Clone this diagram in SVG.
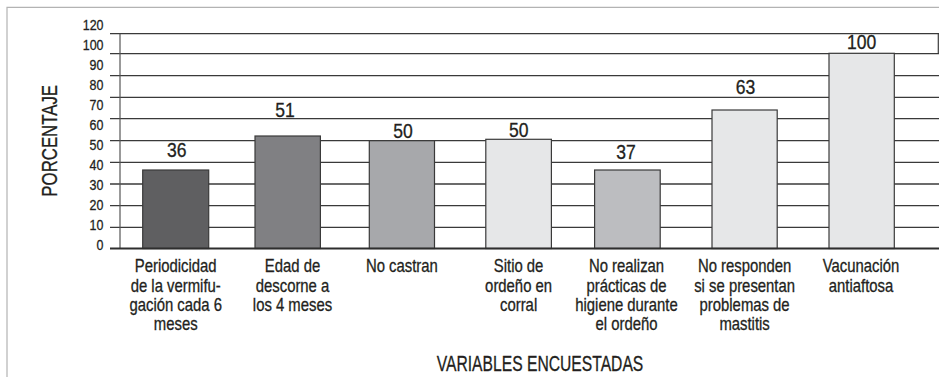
<svg xmlns="http://www.w3.org/2000/svg" width="939" height="377" viewBox="0 0 939 377">
<style>
  text { font-family: "Liberation Sans", Arial, "DejaVu Sans", sans-serif; fill: #231f20; stroke: #231f20; stroke-width: 0.3; }
  .tick { font-size: 14.5px; text-anchor: end; }
  .val { font-size: 19.5px; text-anchor: middle; }
  .cat { font-size: 17.5px; text-anchor: middle; }
  .title { font-size: 21.5px; text-anchor: middle; }
  .grid { stroke: #3a3a3a; stroke-width: 1.3; fill: none; }
  .bar { stroke: #3a3a3a; stroke-width: 1.2; }
</style>
<rect width="939" height="377" fill="#ffffff"/>
<g id="frame" fill="none" stroke="#b3b3b3" stroke-width="1.2">
  <path d="M7,377 V7.3 H939"/>
</g>
<g id="grid">
  <line class="grid" x1="110" y1="33.7" x2="939" y2="33.7"/>
  <line class="grid" x1="110" y1="53.7" x2="939" y2="53.7"/>
  <line class="grid" x1="110" y1="75.7" x2="939" y2="75.7"/>
  <line class="grid" x1="110" y1="97.3" x2="939" y2="97.3"/>
  <line class="grid" x1="110" y1="118.7" x2="939" y2="118.7"/>
  <line class="grid" x1="110" y1="140.7" x2="939" y2="140.7"/>
  <line class="grid" x1="110" y1="162.3" x2="939" y2="162.3"/>
  <line class="grid" x1="110" y1="184" x2="939" y2="184"/>
  <line class="grid" x1="110" y1="205.7" x2="939" y2="205.7"/>
  <line class="grid" x1="110" y1="227.3" x2="939" y2="227.3"/>
  <line x1="938.3" y1="33.7" x2="938.3" y2="53.7" stroke="#3a3a3a" stroke-width="1.2"/>
  <line x1="120" y1="33.7" x2="120" y2="248.5" stroke="#555" stroke-width="1.2"/>
</g>
<g id="ticks" transform="translate(103.5,0) scale(0.86,1)">
  <text class="tick" x="0" y="30">120</text>
  <text class="tick" x="0" y="50">100</text>
  <text class="tick" x="0" y="70">90</text>
  <text class="tick" x="0" y="90">80</text>
  <text class="tick" x="0" y="110">70</text>
  <text class="tick" x="0" y="130">60</text>
  <text class="tick" x="0" y="150">50</text>
  <text class="tick" x="0" y="170">40</text>
  <text class="tick" x="0" y="190">30</text>
  <text class="tick" x="0" y="210">20</text>
  <text class="tick" x="0" y="230">10</text>
  <text class="tick" x="0" y="250">0</text>
</g>
<g id="bar1">
  <rect class="bar" x="142.7" y="170" width="66" height="78.5" fill="#5f5f61"/>
  <text class="val" transform="translate(176.7,157.3) scale(0.9,1)">36</text>
  <g transform="translate(175.7,0) scale(0.85,1)">
    <text class="cat" x="0" y="272.5">Periodicidad</text>
    <text class="cat" x="0" y="291.8">de la vermifu-</text>
    <text class="cat" x="0" y="311.1">gación cada 6</text>
    <text class="cat" x="0" y="330.4">meses</text>
  </g>
</g>
<g id="bar2">
  <rect class="bar" x="255" y="136" width="65.4" height="112.5" fill="#808083"/>
  <text class="val" transform="translate(285,116.7) scale(0.9,1)">51</text>
  <g transform="translate(292.5,0) scale(0.85,1)">
    <text class="cat" x="0" y="272.5">Edad de</text>
    <text class="cat" x="0" y="291.8">descorne a</text>
    <text class="cat" x="0" y="311.1">los 4 meses</text>
  </g>
</g>
<g id="bar3">
  <rect class="bar" x="369.3" y="140.7" width="65.2" height="107.8" fill="#a7a8ab"/>
  <text class="val" transform="translate(403.1,138) scale(0.9,1)">50</text>
  <g transform="translate(401.9,0) scale(0.85,1)">
    <text class="cat" x="0" y="272.5">No castran</text>
  </g>
</g>
<g id="bar4">
  <rect class="bar" x="485.8" y="139.3" width="65.6" height="109.2" fill="#e6e7e8"/>
  <text class="val" transform="translate(518.8,137.3) scale(0.9,1)">50</text>
  <g transform="translate(518.6,0) scale(0.85,1)">
    <text class="cat" x="0" y="272.5">Sitio de</text>
    <text class="cat" x="0" y="291.8">ordeño en</text>
    <text class="cat" x="0" y="311.1">corral</text>
  </g>
</g>
<g id="bar5">
  <rect class="bar" x="594.6" y="170" width="65.6" height="78.5" fill="#bcbdc0"/>
  <text class="val" transform="translate(626,159.3) scale(0.9,1)">37</text>
  <g transform="translate(626.5,0) scale(0.85,1)">
    <text class="cat" x="0" y="272.5">No realizan</text>
    <text class="cat" x="0" y="291.8">prácticas de</text>
    <text class="cat" x="0" y="311.1">higiene durante</text>
    <text class="cat" x="0" y="330.4">el ordeño</text>
  </g>
</g>
<g id="bar6">
  <rect class="bar" x="712" y="110" width="65.2" height="138.5" fill="#e6e7e8"/>
  <text class="val" transform="translate(745.4,94) scale(0.9,1)">63</text>
  <g transform="translate(744.6,0) scale(0.85,1)">
    <text class="cat" x="0" y="272.5">No responden</text>
    <text class="cat" x="0" y="291.8">si se presentan</text>
    <text class="cat" x="0" y="311.1">problemas de</text>
    <text class="cat" x="0" y="330.4">mastitis</text>
  </g>
</g>
<g id="bar7">
  <rect class="bar" x="829" y="53.3" width="65.3" height="195.2" fill="#e6e7e8"/>
  <text class="val" transform="translate(861.7,49.3) scale(0.9,1)">100</text>
  <g transform="translate(861,0) scale(0.85,1)">
    <text class="cat" x="0" y="272.5">Vacunación</text>
    <text class="cat" x="0" y="291.8">antiaftosa</text>
  </g>
</g>
<g id="axis">
  <line x1="110" y1="248.5" x2="939" y2="248.5" stroke="#2e2e2e" stroke-width="1.8"/>
</g>
<g id="titles">
  <text class="title" transform="translate(56.7,140.8) rotate(-90)" x="0" y="0" textLength="111.7" lengthAdjust="spacingAndGlyphs">PORCENTAJE</text>
  <text class="title" x="540" y="370.7" textLength="206.6" lengthAdjust="spacingAndGlyphs">VARIABLES ENCUESTADAS</text>
</g>
</svg>
